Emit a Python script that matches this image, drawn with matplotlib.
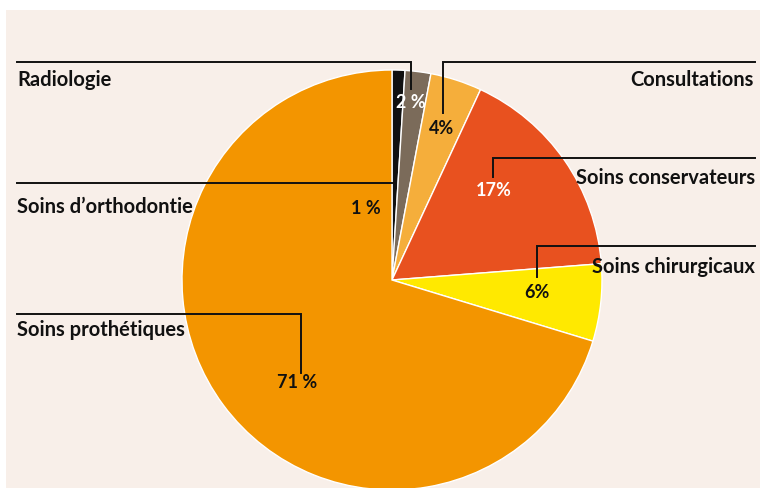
"""
Répartition des dépenses de soins dentaires (camembert)
"""
import matplotlib
matplotlib.use('Agg')
import matplotlib.pyplot as plt
from matplotlib.patches import Rectangle

# Data, clockwise from the top
categories = ['Soins d\u2019orthodontie', 'Radiologie', 'Consultations',
              'Soins conservateurs', 'Soins chirurgicaux', 'Soins prothétiques']
values = [1, 2, 4, 17, 6, 71]
pct_labels = ['1 %', '2 %', '4%', '17%', '6%', '71 %']
colors = ['#111111', '#7b6b5a', '#f5ae3b', '#e8511f', '#ffe900', '#f39500']
pct_colors = ['#111111', 'white', '#111111', 'white', '#111111', '#111111']

W, H = 760, 488
BG = '#f8efe9'
FONT = ['Lato', 'DejaVu Sans']

fig = plt.figure(figsize=(W / 100, H / 100), dpi=100)
ax = fig.add_axes([0, 0, 1, 1])


def Y(y):
    # pixel row (from top) -> data y
    return H - y


ax.add_patch(Rectangle((6, 0), W - 6, Y(10), facecolor=BG, edgecolor='none', zorder=0))

# the pie
cx, cy, r = 392, 280, 210
ax.pie(values, colors=colors, startangle=90, counterclock=False,
       center=(cx, Y(cy)), radius=r,
       wedgeprops=dict(edgecolor='white', linewidth=1.0), frame=True)
ax.set_xlim(0, W)
ax.set_ylim(0, H)
ax.set_aspect('auto')
ax.axis('off')

# leader lines: (x_text_side, y, x_elbow, y_end)
leaders = {
    'Soins d\u2019orthodontie': (17, 183, 392, 183),
    'Radiologie': (17, 62, 411, 89),
    'Consultations': (755, 62, 443, 113),
    'Soins conservateurs': (755, 158, 493, 177),
    'Soins chirurgicaux': (755, 246, 537, 277),
    'Soins prothétiques': (17, 314, 301, 373),
}
for name, (x0, y0, x1, y1) in leaders.items():
    ax.plot([x0, x1, x1], [Y(y0), Y(y0), Y(y1)], color='#111111', lw=1.4,
            solid_joinstyle='miter', zorder=5)

# category labels: (x, y, ha)
label_pos = {
    'Soins d\u2019orthodontie': (17, 207, 'left'),
    'Radiologie': (17, 80, 'left'),
    'Consultations': (754, 80, 'right'),
    'Soins conservateurs': (755, 178, 'right'),
    'Soins chirurgicaux': (755, 267, 'right'),
    'Soins prothétiques': (17, 330, 'left'),
}
for name, (x, y, ha) in label_pos.items():
    ax.text(x, Y(y), name, ha=ha, va='center', fontsize=14.5, fontweight='bold',
            family=FONT, color='#111111', zorder=6)

# percentage labels
pct_pos = [(366, 208), (411, 102), (442, 129), (494, 191), (537, 292), (297, 382)]
for lab, col, (x, y) in zip(pct_labels, pct_colors, pct_pos):
    ax.text(x, Y(y), lab, ha='center', va='center', fontsize=13, fontweight='bold',
            family=FONT, color=col, zorder=6)

fig.savefig('out.png', dpi=100, facecolor='white')
plt.close(fig)
